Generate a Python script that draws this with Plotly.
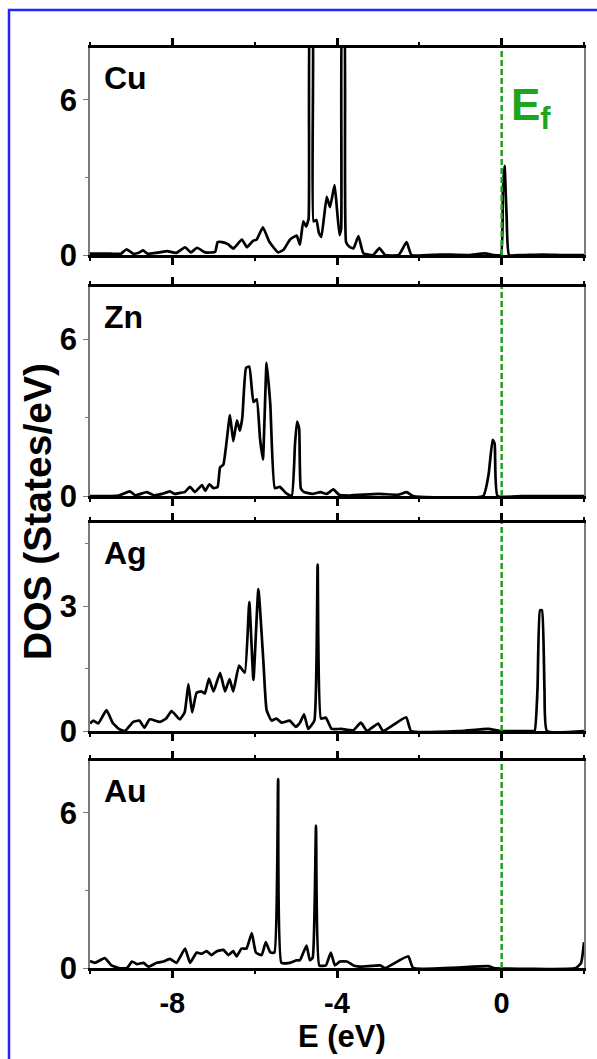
import plotly.graph_objects as go

W, H = 597, 1059

# ---------------- data ----------------
cu_e = [-10.0, -9.5, -9.25, -9.11, -8.95, -8.8, -8.71, -8.6, -8.3, -8.13, -7.9, -7.69, -7.55,
        -7.4, -7.2, -6.96, -6.9, -6.79, -6.65, -6.52, -6.31, -6.19, -6.04, -5.95, -5.8, -5.64,
        -5.43, -5.3, -5.14, -4.98, -4.9, -4.82, -4.75, -4.69, -4.65, -4.60, -4.57, -4.50, -4.44,
        -4.38, -4.25, -4.17, -4.06, -4.01, -3.94, -3.90, -3.87, -3.83, -3.78, -3.70, -3.60, -3.48,
        -3.36, -3.12, -2.97, -2.83, -2.5, -2.31, -2.19, -1.5, -0.8, -0.41, -0.2, -0.02, 0.03,
        0.07, 0.12, 0.18, 0.5, 1.0, 1.5, 2.0]
cu_dos = [0.05, 0.05, 0.05, 0.22, 0.05, 0.1, 0.18, 0.05, 0.1, 0.15, 0.08, 0.3, 0.1,
          0.28, 0.1, 0.12, 0.5, 0.5, 0.42, 0.25, 0.6, 0.3, 0.55, 0.6, 1.07, 0.5,
          0.1, 0.2, 0.6, 0.75, 0.4, 1.3, 1.1, 1.4, 9.5, 9.5, 1.3, 1.35, 0.85,
          0.7, 2.25, 1.85, 2.7, 1.95, 0.77, 1.0, 9.5, 9.5, 0.5, 0.32, 0.25, 0.73,
          0.07, 0.0, 0.27, 0.0, 0.0, 0.5, 0.0, 0.02, 0.0, 0.06, 0.0, 0.0, 2.5,
          3.45, 1.5, 0.0, 0.0, 0.02, 0.0, 0.0]

zn_e = [-10.0, -9.3, -9.03, -8.9, -8.62, -8.45, -8.25, -8.06, -7.95, -7.81, -7.7, -7.57, -7.45,
        -7.28, -7.2, -7.1, -7.0, -6.9, -6.84, -6.76, -6.6, -6.52, -6.43, -6.36, -6.30, -6.21,
        -6.13, -6.03, -5.95, -5.87, -5.80, -5.71, -5.62, -5.51, -5.39, -5.23, -5.1, -5.02,
        -4.97, -4.92, -4.88, -4.8, -4.6, -4.4, -4.25, -4.09, -3.95, -3.7, -3.0, -2.5, -2.31,
        -2.15, -0.45, -0.32, -0.22, -0.17, -0.1, 0.5, 2.0]
zn_dos = [0.0, 0.02, 0.18, 0.03, 0.15, 0.03, 0.08, 0.18, 0.08, 0.12, 0.15, 0.35, 0.15,
          0.42, 0.2, 0.45, 0.3, 0.35, 1.1, 1.2, 3.1, 2.1, 2.9, 2.5, 3.0, 4.9,
          4.95, 3.6, 3.7, 2.2, 1.4, 5.1, 3.5, 0.3, 0.35, 0.1, 0.0, 2.0,
          2.85, 2.6, 0.3, 0.15, 0.08, 0.15, 0.08, 0.25, 0.05, 0.02, 0.08, 0.05, 0.15,
          0.0, 0.0, 0.8, 2.15, 2.0, 0.0, 0.0, 0.0]

ag_e = [-10.0, -9.92, -9.8, -9.6, -9.45, -9.3, -9.15, -8.95, -8.8, -8.68, -8.55, -8.3, -8.15,
        -8.02, -7.82, -7.7, -7.61, -7.52, -7.41, -7.29, -7.21, -7.11, -7.0, -6.84, -6.72,
        -6.61, -6.52, -6.38, -6.24, -6.13, -6.03, -5.91, -5.79, -5.71, -5.59, -5.47, -5.35,
        -5.15, -5.0, -4.9, -4.8, -4.7, -4.55, -4.47, -4.39, -4.27, -4.13, -3.9, -3.6, -3.42,
        -3.27, -3.0, -2.88, -2.32, -2.2, -1.0, -0.33, 0.0, 0.7, 0.8, 0.87, 0.93, 0.98, 1.04,
        1.1, 2.0]
ag_dos = [0.18, 0.25, 0.18, 0.5, 0.2, 0.05, 0.0, 0.22, 0.25, 0.08, 0.28, 0.22, 0.3,
          0.48, 0.28, 0.45, 1.13, 0.45, 0.92, 0.95, 0.9, 1.26, 0.95, 1.4, 0.95,
          1.25, 0.95, 1.57, 1.4, 3.1, 1.23, 3.41, 1.7, 0.5, 0.25, 0.3, 0.2,
          0.25, 0.1, 0.2, 0.4, 0.05, 0.25, 4.0, 0.3, 0.32, 0.05, 0.05, 0.02, 0.2,
          0.0, 0.18, 0.0, 0.33, 0.0, 0.0, 0.05, 0.0, 0.0, 0.0, 1.0, 2.9, 2.9, 1.0,
          0.0, 0.0]

au_e = [-10.0, -9.88, -9.64, -9.48, -9.3, -9.1, -8.98, -8.86, -8.7, -8.58, -8.38, -8.22, -8.06,
        -7.9, -7.69, -7.57, -7.41, -7.29, -7.17, -7.05, -6.92, -6.76, -6.64, -6.52, -6.44,
        -6.32, -6.2, -6.07, -5.97, -5.83, -5.73, -5.62, -5.52, -5.43, -5.35, -5.15, -4.98,
        -4.9, -4.74, -4.66, -4.59, -4.51, -4.43, -4.27, -4.15, -4.05, -3.93, -3.76, -3.6,
        -3.44, -2.95, -2.83, -2.27, -2.15, -0.32, -0.2, 1.8, 1.93, 2.0]
au_dos = [0.27, 0.2, 0.38, 0.1, 0.0, 0.0, 0.25, 0.15, 0.2, 0.05, 0.2, 0.25, 0.35,
          0.2, 0.75, 0.2, 0.6, 0.55, 0.65, 0.5, 0.65, 0.7, 0.5, 0.65, 0.45,
          0.75, 0.75, 1.35, 0.6, 0.5, 1.0, 0.6, 0.6, 7.3, 0.2, 0.2, 0.3,
          0.3, 0.87, 0.3, 0.4, 5.5, 0.1, 0.1, 0.6, 0.1, 0.25, 0.25, 0.1,
          0.05, 0.1, 0.0, 0.45, 0.0, 0.07, 0.0, 0.0, 0.2, 1.0]

labels = ["Cu", "Zn", "Ag", "Au"]
energies = [cu_e, zn_e, ag_e, au_e]
dos = [cu_dos, zn_dos, ag_dos, au_dos]
y_maxes = [8, 8, 5, 8]
y_major = [6, 6, 3, 6]
y_minor = [3, 3, 1.5, 3]
x_tickvals = [-8, -4, 0]
x_ticktext = ["-8", "-4", "0"]

# ---------------- layout geometry (pixels) ----------------
FONT = "Liberation Sans, Arial, sans-serif"
GREEN = "#1ea51e"
plot_left, plot_right = 90, 584
panel_px = [(48, 255), (287, 496), (523, 731), (761, 968)]


def fx(p):
    return p / W


def fy(p):
    return 1 - p / H


fig = go.Figure()
layout = dict(
    width=W, height=H,
    margin=dict(l=0, r=0, t=0, b=0),
    paper_bgcolor="white", plot_bgcolor="white",
    showlegend=False, template="none",
    font=dict(family=FONT, color="black"),
)
shapes = []
annotations = []

for i, (lab, e, d) in enumerate(zip(labels, energies, dos)):
    n = "" if i == 0 else str(i + 1)
    top, bot = panel_px[i]
    fig.add_trace(go.Scatter(x=e, y=d, mode="lines", xaxis="x" + n, yaxis="y" + n,
                             line=dict(color="black", width=2.7, shape="spline",
                                       smoothing=0.4),
                             hoverinfo="skip"))
    last = i == 3
    layout["xaxis" + n] = dict(
        domain=[fx(plot_left), fx(plot_right)], anchor="y" + n, range=[-10, 2],
        showline=True, linecolor="black", linewidth=3, mirror="allticks",
        ticks="outside", tickvals=x_tickvals, ticktext=x_ticktext,
        ticklen=7, tickwidth=2.5, tickcolor="black",
        minor=dict(tickvals=[-10, -6, -2, 2], ticks="outside", ticklen=3,
                   tickwidth=2, tickcolor="black"),
        showticklabels=last, showgrid=False, zeroline=False, automargin=False,
        tickfont=dict(size=29, family=FONT, weight="bold", color="black"),
        ticklabelstandoff=0,
    )
    layout["yaxis" + n] = dict(
        domain=[fy(bot), fy(top)], anchor="x" + n, range=[0, y_maxes[i]],
        showline=True, linecolor="#7a7a7a", linewidth=1.5, mirror=True,
        ticks="outside", tick0=0, dtick=y_major[i], ticklen=5, tickwidth=1,
        tickcolor="#7a7a7a",
        minor=dict(tick0=0, dtick=y_minor[i], ticks="outside", ticklen=3,
                   tickwidth=1, tickcolor="#7a7a7a"),
        showgrid=False, zeroline=False, automargin=False,
        tickfont=dict(size=31, family=FONT, weight="bold", color="black"),
        ticklabelstandoff=0,
    )
    yd = "y domain" if i == 0 else "y%s domain" % n
    shapes.append(dict(type="line", xref="x" + n, yref=yd, x0=0, x1=0, y0=0, y1=1,
                       line=dict(color=GREEN, width=2.5, dash="6px,3px"), layer="above"))
    annotations.append(dict(text="<b>%s</b>" % lab, xref="paper", yref="paper",
                            x=fx(102), y=fy(top + 30), xanchor="left", yanchor="middle",
                            showarrow=False, font=dict(size=32, family=FONT, color="black")))

annotations.append(dict(text="<b>E<sub>f</sub></b>", xref="paper", yref="paper",
                        x=fx(509), y=fy(108), xanchor="left", yanchor="middle",
                        showarrow=False, font=dict(size=44, family=FONT, color=GREEN)))
annotations.append(dict(text="<b>DOS (States/eV)</b>", xref="paper", yref="paper",
                        x=fx(37), y=fy(512), xanchor="center", yanchor="middle",
                        textangle=-90, showarrow=False,
                        font=dict(size=39, family=FONT, color="black")))
annotations.append(dict(text="<b>E (eV)</b>", xref="paper", yref="paper",
                        x=fx(342), y=fy(1036), xanchor="center", yanchor="middle",
                        showarrow=False, font=dict(size=31, family=FONT, color="black")))

shapes.append(dict(type="rect", xref="paper", yref="paper",
                   x0=fx(9), x1=fx(620), y0=fy(1065), y1=fy(10),
                   line=dict(color="#2424ff", width=2.5), fillcolor="rgba(0,0,0,0)"))

layout["shapes"] = shapes
layout["annotations"] = annotations
fig.update_layout(**layout)
fig.write_html("out.html")
